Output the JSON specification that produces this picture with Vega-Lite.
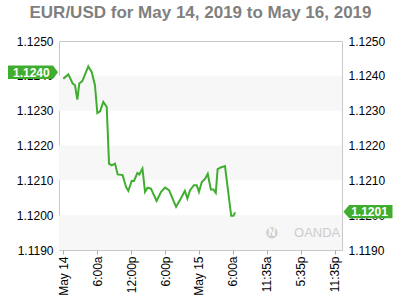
{
  "$schema": "https://vega.github.io/schema/vega-lite/v6.json",
  "width": 283,
  "height": 209,
  "autosize": "none",
  "padding": {"left": 59, "top": 41, "right": 58, "bottom": 50},
  "background": "white",
  "title": {
    "text": "EUR/USD for May 14, 2019 to May 16, 2019",
    "font": "Liberation Sans",
    "fontSize": 17,
    "fontWeight": "bold",
    "color": "#7f7f7f",
    "anchor": "middle",
    "frame": "group",
    "baseline": "alphabetic",
    "offset": 0.5
  },
  "config": {
    "view": {"stroke": "#c8c8c8", "strokeWidth": 1},
    "axis": {
      "labelFont": "Liberation Sans",
      "labelFontSize": 12,
      "labelColor": "#000000",
      "labelOverlap": false,
      "grid": false,
      "domain": false,
      "title": null
    }
  },
  "datasets": {
    "bands": [
      {"lo": 1.123, "hi": 1.124},
      {"lo": 1.121, "hi": 1.122},
      {"lo": 1.119, "hi": 1.12}
    ],
    "price": [
      {"h": 0, "v": 1.12392}, {"h": 0.89, "v": 1.12404}, {"h": 1.66, "v": 1.12378},
      {"h": 2.07, "v": 1.12373}, {"h": 2.48, "v": 1.12332}, {"h": 2.83, "v": 1.12378},
      {"h": 3.36, "v": 1.12385}, {"h": 4.42, "v": 1.12427}, {"h": 5.02, "v": 1.12411},
      {"h": 5.6, "v": 1.12373}, {"h": 6.02, "v": 1.12293}, {"h": 6.5, "v": 1.12298},
      {"h": 7.08, "v": 1.12325}, {"h": 7.68, "v": 1.12311}, {"h": 8.09, "v": 1.12148},
      {"h": 8.56, "v": 1.12143}, {"h": 9.15, "v": 1.12148}, {"h": 9.62, "v": 1.12117},
      {"h": 10.5, "v": 1.12115}, {"h": 11.1, "v": 1.12081}, {"h": 11.5, "v": 1.1207},
      {"h": 12.1, "v": 1.12098}, {"h": 12.5, "v": 1.12098}, {"h": 13.1, "v": 1.12121},
      {"h": 13.45, "v": 1.12117}, {"h": 14.0, "v": 1.12134}, {"h": 14.46, "v": 1.12067},
      {"h": 14.9, "v": 1.12079}, {"h": 15.5, "v": 1.12076}, {"h": 16.5, "v": 1.12041},
      {"h": 17.3, "v": 1.12067}, {"h": 18.0, "v": 1.12079}, {"h": 18.7, "v": 1.12072},
      {"h": 19.95, "v": 1.12024}, {"h": 20.8, "v": 1.12048}, {"h": 21.5, "v": 1.1207},
      {"h": 21.95, "v": 1.12048}, {"h": 22.4, "v": 1.12071}, {"h": 23.1, "v": 1.12086},
      {"h": 23.6, "v": 1.12086}, {"h": 24.0, "v": 1.12067}, {"h": 24.5, "v": 1.12095},
      {"h": 25.1, "v": 1.12105}, {"h": 25.55, "v": 1.12119}, {"h": 26.1, "v": 1.12074},
      {"h": 26.55, "v": 1.12074}, {"h": 26.97, "v": 1.12064}, {"h": 27.3, "v": 1.12132},
      {"h": 27.85, "v": 1.12137}, {"h": 28.6, "v": 1.12141}, {"h": 29.7, "v": 1.11998},
      {"h": 30.1, "v": 1.11998}, {"h": 30.4, "v": 1.12008}
    ],
    "lefttag": [{"v": 1.1241, "label": "1.1240"}],
    "righttag": [{"v": 1.1201, "label": "1.1201"}]
  },
  "layer": [
    {
      "layer": [
        {
          "data": {"name": "bands"},
          "mark": {"type": "rect", "color": "#f7f7f7"},
          "encoding": {
            "y": {"field": "lo", "type": "quantitative", "scale": {"domain": [1.119, 1.125], "nice": false, "zero": false},
              "axis": {"orient": "left", "values": [1.119, 1.12, 1.121, 1.122, 1.123, 1.124, 1.125], "format": ".4f", "ticks": false, "labelPadding": 6, "labelOverlap": false}},
            "y2": {"field": "hi"}
          }
        },
        {
          "data": {"name": "price"},
          "mark": {"type": "line", "color": "#3fae2f", "strokeWidth": 2},
          "encoding": {
            "x": {
              "field": "h", "type": "quantitative",
              "scale": {"domain": [-0.76, 49.3], "nice": false, "zero": false},
              "axis": {
                "values": [0, 6, 12, 18, 24, 30, 36, 42, 48],
                "labelAngle": -90,
                "labelOverlap": false,
                "ticks": true,
                "tickSize": 4,
                "tickColor": "#aaaaaa",
                "labelPadding": 2,
                "labelExpr": "datum.value == 0 ? 'May 14' : datum.value == 6 ? '6:00a' : datum.value == 12 ? '12:00p' : datum.value == 18 ? '6:00p' : datum.value == 24 ? 'May 15' : datum.value == 30 ? '6:00a' : datum.value == 36 ? '11:35a' : datum.value == 42 ? '5:35p' : '11:35p'"
              }
            },
            "y": {
              "field": "v", "type": "quantitative",
              "scale": {"domain": [1.119, 1.125], "nice": false, "zero": false},
              "axis": {"orient": "left", "values": [1.119, 1.12, 1.121, 1.122, 1.123, 1.124, 1.125], "format": ".4f", "ticks": false, "labelPadding": 6, "labelOverlap": false}
            }
          }
        },
        {
          "data": {"values": [{"name": "OANDA"}]},
          "mark": {"type": "point", "filled": true, "shape": "circle", "size": 133, "color": "#cfcfcf", "opacity": 1},
          "encoding": {
            "x": {"datum": 36.9, "type": "quantitative", "axis": {"values": [0, 6, 12, 18, 24, 30, 36, 42, 48], "labelOverlap": false}},
            "y": {"datum": 1.119495, "type": "quantitative", "axis": {"orient": "left", "values": [1.119, 1.12, 1.121, 1.122, 1.123, 1.124, 1.125], "labelOverlap": false}}
          }
        },
        {
          "data": {"values": [{"name": "OANDA"}]},
          "mark": {"type": "text", "text": "N", "font": "Liberation Sans", "fontSize": 10, "fontWeight": "bold", "color": "white", "baseline": "middle", "align": "center"},
          "encoding": {
            "x": {"datum": 36.9, "type": "quantitative", "axis": {"values": [0, 6, 12, 18, 24, 30, 36, 42, 48], "labelOverlap": false}},
            "y": {"datum": 1.119495, "type": "quantitative", "axis": {"orient": "left", "values": [1.119, 1.12, 1.121, 1.122, 1.123, 1.124, 1.125], "labelOverlap": false}}
          }
        },
        {
          "data": {"values": [{"name": "OANDA"}]},
          "mark": {"type": "text", "font": "Liberation Sans", "fontSize": 13, "color": "#cccccc", "baseline": "middle", "align": "center"},
          "encoding": {
            "x": {"datum": 44.9, "type": "quantitative", "axis": {"values": [0, 6, 12, 18, 24, 30, 36, 42, 48], "labelOverlap": false}},
            "y": {"datum": 1.119495, "type": "quantitative", "axis": {"orient": "left", "values": [1.119, 1.12, 1.121, 1.122, 1.123, 1.124, 1.125], "labelOverlap": false}},
            "text": {"field": "name"}
          }
        },
        {
          "data": {"name": "lefttag"},
          "mark": {"type": "point", "filled": true, "opacity": 1, "size": 2500, "color": "#3fae2f", "shape": "M-1,-0.27L0.8,-0.27L1,0L0.8,0.27L-1,0.27Z"},
          "encoding": {
            "x": {"datum": -5.36, "type": "quantitative", "axis": {"values": [0, 6, 12, 18, 24, 30, 36, 42, 48], "labelOverlap": false}},
            "y": {"field": "v", "type": "quantitative", "axis": {"orient": "left", "values": [1.119, 1.12, 1.121, 1.122, 1.123, 1.124, 1.125], "labelOverlap": false}}
          }
        },
        {
          "data": {"name": "lefttag"},
          "mark": {"type": "text", "font": "Liberation Sans", "fontSize": 12, "fontWeight": "bold", "color": "white", "baseline": "middle", "align": "center", "dy": 0.5},
          "encoding": {
            "x": {"datum": -5.66, "type": "quantitative", "axis": {"values": [0, 6, 12, 18, 24, 30, 36, 42, 48], "labelOverlap": false}},
            "y": {"field": "v", "type": "quantitative", "axis": {"orient": "left", "values": [1.119, 1.12, 1.121, 1.122, 1.123, 1.124, 1.125], "labelOverlap": false}},
            "text": {"field": "label"}
          }
        }
      ]
    },
    {
      "data": {"name": "righttag"},
      "layer": [
        {
          "mark": {"type": "point", "filled": true, "opacity": 1, "size": 2401, "color": "#3fae2f", "shape": "M1,-0.27L-0.77,-0.27L-1,0L-0.77,0.27L1,0.27Z"},
          "encoding": {
            "x": {"datum": 53.9, "type": "quantitative", "axis": {"values": [0, 6, 12, 18, 24, 30, 36, 42, 48], "labelOverlap": false}},
            "y": {
              "field": "v", "type": "quantitative",
              "scale": {"domain": [1.119, 1.125], "nice": false, "zero": false},
              "axis": {"orient": "right", "values": [1.119, 1.12, 1.121, 1.122, 1.123, 1.124, 1.125], "format": ".4f", "ticks": false, "labelPadding": 6, "labelOverlap": false}
            }
          }
        },
        {
          "mark": {"type": "text", "font": "Liberation Sans", "fontSize": 12, "fontWeight": "bold", "color": "white", "baseline": "middle", "align": "center", "dy": 0.5},
          "encoding": {
            "x": {"datum": 54.16, "type": "quantitative", "axis": {"values": [0, 6, 12, 18, 24, 30, 36, 42, 48], "labelOverlap": false}},
            "y": {"field": "v", "type": "quantitative", "axis": {"orient": "right", "values": [1.119, 1.12, 1.121, 1.122, 1.123, 1.124, 1.125], "format": ".4f", "ticks": false, "labelPadding": 6, "labelOverlap": false}},
            "text": {"field": "label"}
          }
        }
      ]
    }
  ],
  "resolve": {"scale": {"y": "independent"}}
}
